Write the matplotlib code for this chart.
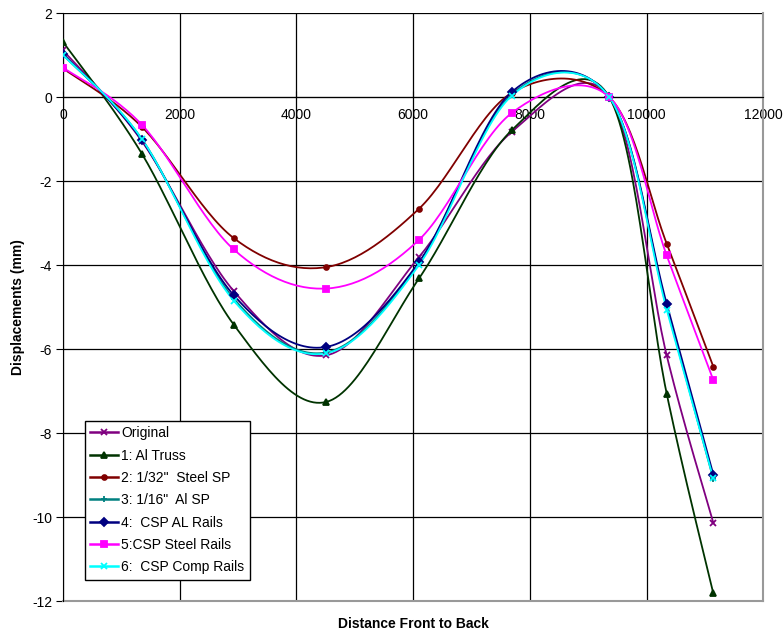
import numpy as np
import matplotlib
matplotlib.use("Agg")
import matplotlib.pyplot as plt

plt.rcParams['font.family'] = ['Liberation Sans', 'DejaVu Sans']

x_pos = [0, 1350, 2925, 4510, 6100, 7690, 9360, 10345, 11145]

original = [1.11, -1.05, -4.62, -6.15, -3.81, -0.83, 0.0, -6.15, -10.14]
al_truss = [1.31, -1.35, -5.42, -7.26, -4.32, -0.79, 0.0, -7.06, -11.82]
steel_sp = [0.68, -0.71, -3.36, -4.05, -2.66, 0.10, 0.0, -3.49, -6.42]
al_sp = [1.0, -1.0, -4.80, -6.08, -3.95, 0.06, 0.0, -5.00, -9.10]
csp_al = [1.03, -1.03, -4.72, -5.95, -3.93, 0.12, 0.0, -4.92, -8.99]
csp_steel = [0.70, -0.66, -3.63, -4.56, -3.40, -0.38, 0.0, -3.77, -6.74]
csp_comp = [1.0, -1.0, -4.85, -6.10, -4.00, 0.03, 0.0, -5.06, -9.08]

labels = ["Original", "1: Al Truss", "2: 1/32\"  Steel SP", "3: 1/16\"  Al SP",
          "4:  CSP AL Rails", "5:CSP Steel Rails", "6:  CSP Comp Rails"]
series = [original, al_truss, steel_sp, al_sp, csp_al, csp_steel, csp_comp]
colors = ["#800080", "#003300", "#800000", "#008080", "#000080", "#FF00FF", "#00FFFF"]
markers = ["x", "^", "o", "+", "D", "s", "x"]
msizes = [4, 5, 3.5, 4, 4, 5, 4]

x_ticks = [0, 2000, 4000, 6000, 8000, 10000, 12000]
y_ticks = [2, 0, -2, -4, -6, -8, -10, -12]


def smooth(xs, ys, n=30):
    # Excel-style smoothed line (Catmull-Rom Bezier through the points)
    P = np.column_stack([xs, ys]).astype(float)
    out = []
    m = len(P)
    t = np.linspace(0, 1, n)
    for i in range(m - 1):
        p0 = P[i - 1] if i > 0 else P[i]
        p1 = P[i]
        p2 = P[i + 1]
        p3 = P[i + 2] if i + 2 < m else P[i + 1]
        c1 = p1 + (p2 - p0) / 6
        c2 = p2 - (p3 - p1) / 6
        seg = ((1 - t) ** 3)[:, None] * p1 + (3 * (1 - t) ** 2 * t)[:, None] * c1 \
            + (3 * (1 - t) * t ** 2)[:, None] * c2 + (t ** 3)[:, None] * p2
        out.append(seg if i == 0 else seg[1:])
    seg = np.vstack(out)
    return seg[:, 0], seg[:, 1]


fig = plt.figure(figsize=(7.84, 6.35), dpi=100)
ax = fig.add_axes([0.0805, 0.0535, 0.893, 0.926])

for ys, lab, c, mk, ms in zip(series, labels, colors, markers, msizes):
    sx, sy = smooth(x_pos, ys)
    ax.plot(sx, sy, color=c, lw=1.3, zorder=3)
    ax.plot(x_pos, ys, linestyle='none', marker=mk, color=c, ms=ms, mew=1.3, zorder=4)
    ax.plot([], [], color=c, lw=1.8, marker=mk, ms=ms, mew=1.3, label=lab)

ax.set_xlim(0, 12000)
ax.set_ylim(-12, 2)
ax.set_xticks(x_ticks)
ax.set_yticks(y_ticks)
ax.set_xticklabels([str(v) for v in x_ticks])
ax.set_yticklabels([str(v) for v in y_ticks])
ax.grid(True, color='black', lw=0.9, zorder=1)
ax.set_axisbelow(True)

ax.spines['bottom'].set_position(('data', 0))
ax.spines['bottom'].set_color('black')
ax.spines['top'].set_visible(False)
ax.spines['right'].set_color('#999999')
ax.spines['right'].set_linewidth(1.5)
ax.spines['left'].set_color('black')
ax.axhline(-12, color='#999999', lw=1.5, clip_on=False, zorder=2)

ax.tick_params(axis='x', direction='in', length=4, labelsize=10, pad=8)
ax.tick_params(axis='y', direction='out', length=5, labelsize=10, pad=3)

ax.set_xlabel("Distance Front to Back", fontsize=10, fontweight='bold')
ax.xaxis.set_label_coords(0.5, -0.028)
ax.set_ylabel("Displacements (mm)", fontsize=10, fontweight='bold')
ax.yaxis.set_label_coords(-0.054, 0.5)

leg = ax.legend(loc='lower left', bbox_to_anchor=(0.031, 0.036), fontsize=10,
                frameon=True, fancybox=False, edgecolor='black', framealpha=1,
                handlelength=2.0, handletextpad=0.2, labelspacing=0.6,
                borderpad=0.4, borderaxespad=0)
leg.get_frame().set_linewidth(1.0)

fig.savefig("out.png", dpi=100)
